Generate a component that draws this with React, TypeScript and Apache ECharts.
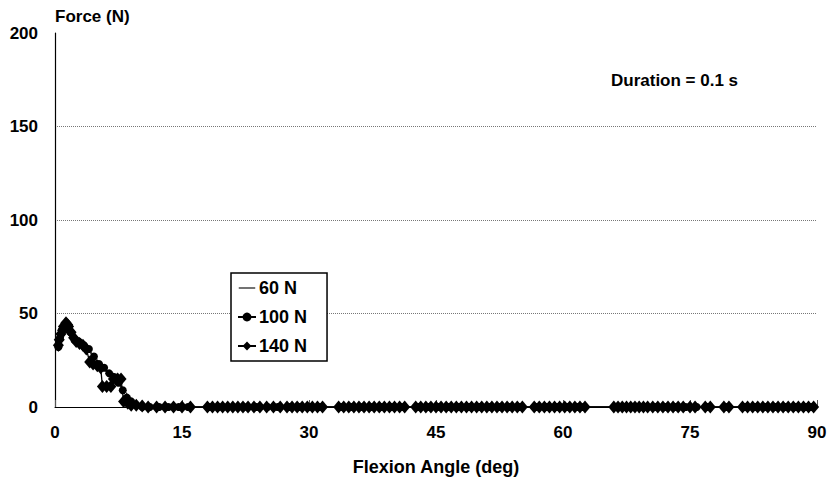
import React, { useEffect, useRef } from "react";
import * as echarts from "echarts";

// Force (N) vs flexion angle (deg), duration 0.1 s
const seriesNames = ["60 N", "100 N", "140 N"];
const yTicks = [0, 50, 100, 150, 200];
const xTicks = [0, 15, 30, 45, 60, 75, 90];
const durationLabel = "Duration = 0.1 s";

// 60 N: line only
const n60Angle = [0.5, 1.0, 1.5, 2.0, 2.5, 3.0, 3.5, 4.0, 4.5, 5.0, 5.5, 6.0, 6.5, 7.0, 7.5, 8.0, 8.5, 9.0, 9.5, 10.2, 10.8, 90.3];
const n60Force = [36, 43, 42, 39, 36, 35, 33, 30, 27, 24, 21, 19, 17, 15, 13, 10, 7, 4, 2, 1, 0, 0];

// 100 N: circles
const n100Angle = [0.4, 0.6, 0.8, 1.1, 1.4, 1.8, 2.3, 2.8, 3.4, 4.0, 4.6, 5.2, 5.8, 6.4, 7.0, 7.5, 8.0, 8.5, 9.0, 9.6, 10.3,
  11.2, 12.3, 13.4, 14.6, 15.7, 18.2, 19.3, 20.4, 21.6, 22.7, 23.8, 25.1, 26.3, 27.7, 28.9, 30.2, 31.3, 33.8, 35.0, 36.1,
  37.3, 38.5, 39.7, 40.9, 42.9, 44.1, 45.3, 46.5, 47.7, 48.9, 50.1, 51.3, 52.5, 53.7, 54.9, 56.9, 58.1, 59.3, 60.5, 61.7,
  62.4, 66.2, 67.3, 68.4, 69.6, 70.9, 72.1, 73.3, 74.5, 75.8, 77.1, 79.3, 81.5, 82.7, 83.9, 85.1, 86.3, 87.5, 88.7, 89.3];
const n100Force = [32, 37, 41, 44, 43, 40, 36, 35, 33, 31, 27, 23, 21, 18, 16, 13, 9, 5, 3, 1, 0,
  0, 0, 0, 0, 0, 0, 0, 0, 0, 0, 0, 0, 0, 0, 0, 0, 0, 0, 0, 0,
  0, 0, 0, 0, 0, 0, 0, 0, 0, 0, 0, 0, 0, 0, 0, 0, 0, 0, 0, 0,
  0, 0, 0, 0, 0, 0, 0, 0, 0, 0, 0, 0, 0, 0, 0, 0, 0, 0, 0, 0];

// 140 N: diamonds
const n140Angle = [0.4, 0.5, 0.7, 0.9, 1.0, 1.2, 1.3, 1.5, 1.6, 1.9, 2.2, 2.5, 2.9, 3.3, 3.7, 4.1, 4.5, 5.0, 5.4, 5.6,
  6.1, 6.6, 6.9, 7.4, 7.8, 8.1, 8.6, 9.0, 9.6, 10.3, 11.0, 12.0, 13.0, 14.0, 15.0, 16.0, 18.0, 18.6, 19.2, 19.8,
  20.4, 21.0, 21.6, 22.2, 22.8, 23.5, 24.2, 25.0, 25.8, 26.6, 27.4, 28.0, 28.6, 29.2, 29.8, 30.4, 31.0, 31.6, 33.5, 34.1,
  34.7, 35.3, 35.9, 36.5, 37.1, 37.7, 38.3, 38.9, 39.5, 40.1, 40.7, 41.3, 42.6, 43.2, 43.8, 44.4, 45.0, 45.6, 46.2, 46.8,
  47.4, 48.0, 48.6, 49.2, 49.8, 50.4, 51.0, 51.6, 52.2, 52.8, 53.4, 54.0, 54.6, 55.2, 56.6, 57.2, 57.8, 58.4, 59.0, 59.6,
  60.2, 60.8, 61.4, 62.0, 62.6, 66.0, 66.5, 67.0, 67.5, 68.0, 68.5, 69.0, 69.5, 70.0, 70.6, 71.2, 71.8, 72.4, 73.0, 73.6,
  74.2, 75.0, 75.6, 76.8, 77.4, 79.0, 79.6, 81.2, 81.8, 82.4, 83.0, 83.6, 84.2, 84.8, 85.4, 86.0, 86.6, 87.2, 87.8, 88.4,
  89.0, 89.6];
const n140Force = [33, 36, 39, 41, 43, 44, 45, 44, 43, 40, 37, 35, 34, 33, 31, 24, 23, 22, 21, 11,
  11, 11, 15, 15, 15, 3, 2, 1, 1, 0.5, 0, 0, 0, 0, 0, 0, 0, 0, 0, 0,
  0, 0, 0, 0, 0, 0, 0, 0, 0, 0, 0, 0, 0, 0, 0, 0, 0, 0, 0, 0,
  0, 0, 0, 0, 0, 0, 0, 0, 0, 0, 0, 0, 0, 0, 0, 0, 0, 0, 0, 0,
  0, 0, 0, 0, 0, 0, 0, 0, 0, 0, 0, 0, 0, 0, 0, 0, 0, 0, 0, 0,
  0, 0, 0, 0, 0, 0, 0, 0, 0, 0, 0, 0, 0, 0, 0, 0, 0, 0, 0, 0,
  0, 0, 0, 0, 0, 0, 0, 0, 0, 0, 0, 0, 0, 0, 0, 0, 0, 0, 0, 0,
  0, 0];

const pairs = (xs: number[], ys: number[]) => xs.map((x, i) => [x, ys[i]]);

const FONT = "'Liberation Sans', Arial, sans-serif";
const LINE_ICON = "path://M0,0M18,12M0,5.4L18,5.4L18,6.6L0,6.6Z";

export default function App() {
  const ref = useRef<HTMLDivElement>(null);
  useEffect(() => {
    if (!ref.current) return;
    const chart = echarts.init(ref.current, undefined, { renderer: "svg" });
    chart.setOption({
      animation: false,
      backgroundColor: "#ffffff",
      textStyle: { fontFamily: FONT },
      grid: { left: 55, right: 14, top: 33, bottom: 69, containLabel: false },
      legend: {
        orient: "vertical",
        left: 231,
        top: 273,
        padding: [6, 20, 6, 6],
        itemGap: 11,
        itemWidth: 18,
        itemHeight: 11,
        borderColor: "#000",
        borderWidth: 1.5,
        backgroundColor: "#fff",
        data: [
          { name: seriesNames[0], icon: LINE_ICON, itemStyle: { color: "#000", borderWidth: 0 } },
          { name: seriesNames[1] },
          { name: seriesNames[2] },
        ],
        textStyle: { fontFamily: FONT, fontSize: 18, fontWeight: "bold", color: "#000", padding: [0, 0, 0, -2] },
      },
      xAxis: {
        type: "value",
        min: 0,
        max: 90,
        interval: 15,
        name: "Flexion Angle (deg)",
        nameLocation: "middle",
        nameGap: 51,
        nameTextStyle: { fontFamily: FONT, fontSize: 18, fontWeight: "bold", color: "#000" },
        axisLine: { show: true, lineStyle: { color: "#000", width: 1 } },
        axisTick: { show: true, inside: true, length: 7, lineStyle: { color: "#555", width: 1 } },
        axisLabel: {
          fontFamily: FONT, fontSize: 17, fontWeight: "bold", color: "#000", margin: 17,
          formatter: (v: number) => (xTicks.includes(v) ? String(v) : ""),
        },
        splitLine: { show: false },
      },
      yAxis: {
        type: "value",
        min: 0,
        max: 200,
        interval: 50,
        name: "Force (N)",
        nameLocation: "end",
        nameGap: 8,
        nameTextStyle: { fontFamily: FONT, fontSize: 17, fontWeight: "bold", color: "#000", align: "left" },
        axisLine: { show: true, lineStyle: { color: "#000", width: 1.2 } },
        axisTick: { show: false },
        axisLabel: {
          fontFamily: FONT, fontSize: 17, fontWeight: "bold", color: "#000", margin: 17,
          formatter: (v: number) => (yTicks.includes(v) ? String(v) : ""),
        },
        splitLine: {
          show: true,
          showMaxLine: false,
          lineStyle: { color: "#777", type: [1, 1], width: 1 },
        },
      },
      graphic: [
        {
          type: "text",
          left: 611,
          top: 72,
          style: { text: durationLabel, fontFamily: FONT, fontSize: 17, fontWeight: "bold", fill: "#000" },
        },
      ],
      series: [
        {
          name: seriesNames[0],
          type: "line",
          data: pairs(n60Angle, n60Force),
          symbol: "none",
          lineStyle: { color: "#000", width: 1 },
          itemStyle: { color: "#000" },
          z: 1,
        },
        {
          name: seriesNames[1],
          type: "line",
          data: pairs(n100Angle, n100Force),
          symbol: "circle",
          symbolSize: 8,
          showAllSymbol: true,
          lineStyle: { color: "#000", width: 1 },
          itemStyle: { color: "#000" },
          z: 2,
        },
        {
          name: seriesNames[2],
          type: "line",
          data: pairs(n140Angle, n140Force),
          symbol: "diamond",
          symbolSize: [11, 13],
          showAllSymbol: true,
          lineStyle: { color: "#000", width: 1.3 },
          itemStyle: { color: "#000" },
          z: 3,
        },
      ],
    });
    return () => chart.dispose();
  }, []);
  return (
    <div
      ref={ref}
      style={{ position: "absolute", left: 0, top: 0, width: 831, height: 481 }}
    />
  );
}
